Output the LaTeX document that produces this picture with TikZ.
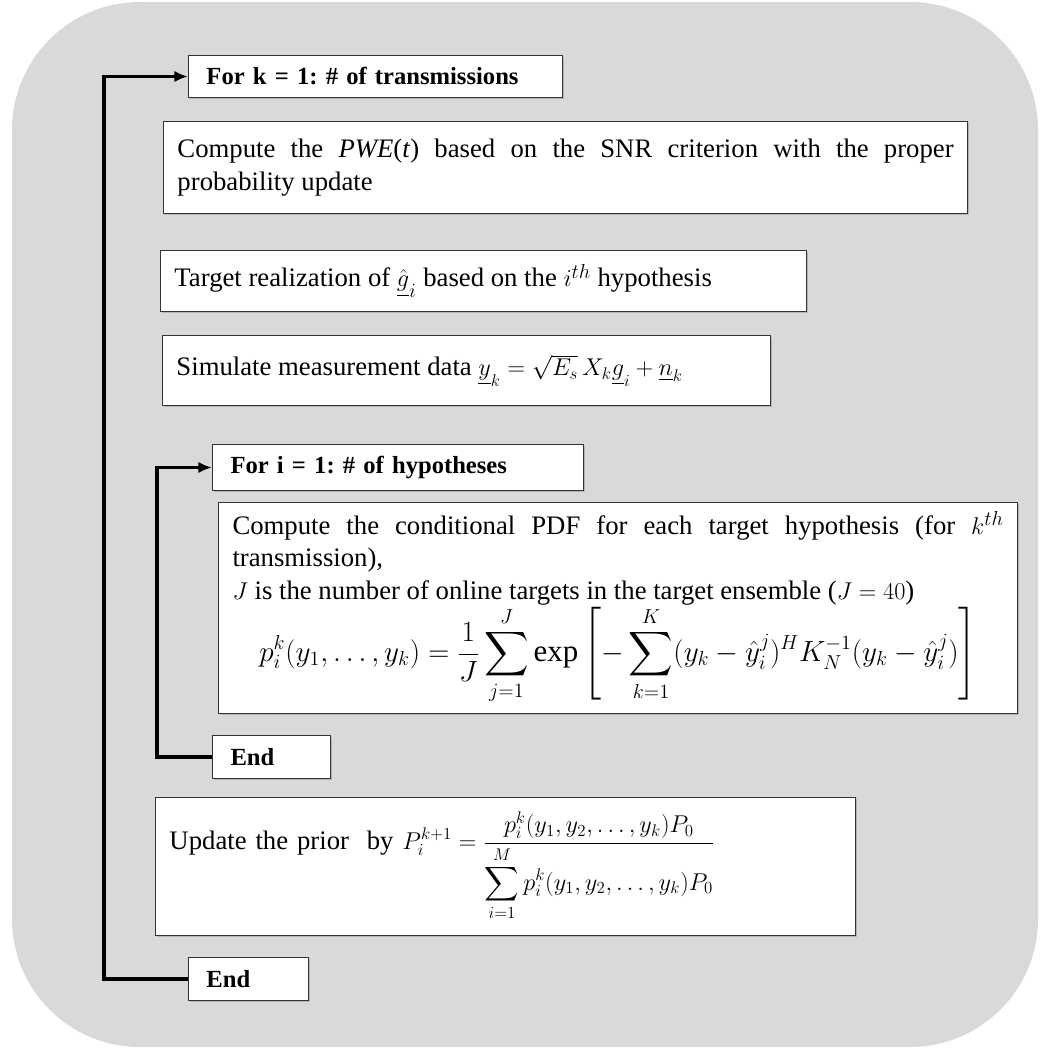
\documentclass[tikz,border=0pt]{standalone}
\usepackage{amsmath,amssymb}
\usepackage{fontspec}
\setmainfont{Liberation Serif}
\usetikzlibrary{arrows.meta,positioning,calc,shadows}

\definecolor{panelgray}{HTML}{D9D9D9}
\setlength{\parindent}{0pt}
\hyphenpenalty=10000
\exhyphenpenalty=10000
\frenchspacing

\begin{document}
\begin{tikzpicture}[
  x=0.025cm,y=-0.025cm,
  font=\fontsize{19}{23}\selectfont,
  >={Latex[length=3.4mm,width=2.8mm]},
  stepbox/.style={rectangle,draw=black!80,fill=white,line width=0.7pt,anchor=north west,
    inner xsep=0.35cm,inner ysep=2pt,align=justify,
    drop shadow={shadow xshift=0.8pt,shadow yshift=-0.8pt,opacity=0.4}},
  loopbox/.style={stepbox,inner xsep=0.45cm,align=left,font=\fontsize{17.5}{20}\selectfont\bfseries},
  loopline/.style={line width=2.2pt,draw=black},
]
\useasboundingbox (0,0) rectangle (1039,1050);

%% ---------------------------------------------------------------- panel
\fill[panelgray,rounded corners=3.2cm] (12,2) rectangle (1038,1047);

%% ------------------------------------------------------------ outer loop
\node[loopbox,text width=8.45cm,minimum height=1.05cm] (fork) at (188,55)
  {For k = 1: \# of transmissions};
\node[stepbox,text width=19.4cm,minimum height=2.3cm] (pwe) at (163,121)
  {Compute the \textit{PWE}(\textit{t}) based on the SNR criterion with the proper
   probability update};
\node[stepbox,text width=15.45cm,minimum height=1.525cm] (real) at (160,250)
  {Target realization of $\underline{\hat{g}}_i$ based on the $i^{th}$ hypothesis};
\node[stepbox,text width=14.5cm,minimum height=1.75cm] (sim) at (162,335)
  {Simulate measurement data {\fontsize{17}{20}\selectfont
   $\underline{y}_k=\sqrt{E_s}\,X_k\underline{g}_i+\underline{n}_k$}};

%% ------------------------------------------------------------ inner loop
\node[loopbox,text width=8.375cm,minimum height=1.15cm] (fori) at (212,444)
  {For i = 1: \# of hypotheses};
\node[stepbox,text width=19.275cm,minimum height=5.275cm] (pdf) at (218,502)
  {Compute the conditional PDF for each target hypothesis (for $k^{th}$
   transmission),\par
   $J$ is the number of online targets in the target ensemble ($J=40$)\par
   {\centering\fontsize{22}{26}\selectfont
   $\displaystyle p_i^k(y_1,\ldots,y_k)=\frac{1}{J}\sum_{j=1}^{J}\exp\left[-\sum_{k=1}^{K}
    (y_k-\hat{y}_i^j)^H K_N^{-1}(y_k-\hat{y}_i^j)\right]$\par}};
\node[loopbox,text width=2.05cm,minimum height=1.075cm] (endi) at (212,735) {End};

%% ----------------------------------------------------------------- prior
\node[stepbox,text width=16.8cm,minimum height=3.45cm,align=left] (prior) at (155,797)
  {Update the prior~ by {\fontsize{17}{20}\selectfont
   $P_i^{k+1}=\dfrac{p_i^k(y_1,y_2,\ldots,y_k)P_0}
   {\displaystyle\sum_{i=1}^{M}p_i^k(y_1,y_2,\ldots,y_k)P_0}$}};
\node[loopbox,text width=2.1cm,minimum height=1.075cm] (endk) at (188,957) {End};

%% ----------------------------------------------------------------- loops
\coordinate (kbar) at (104,0);
\coordinate (ibar) at (157,0);
\draw[loopline,->] (endk.west) -- (endk.west -| kbar) |- (fork.west);
\draw[loopline,->] (endi.west) -- (endi.west -| ibar) |- (fori.west);

\end{tikzpicture}
\end{document}
